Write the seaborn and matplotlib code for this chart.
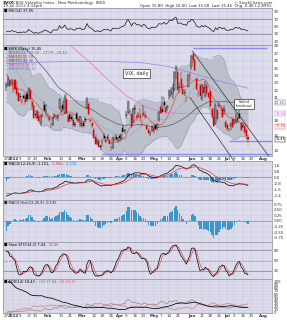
import numpy as np
import pandas as pd
import matplotlib
matplotlib.use("Agg")
import matplotlib.pyplot as plt
import matplotlib.transforms as mtransforms
import seaborn as sns

sns.set_theme(style="white")
plt.rcParams['font.family'] = ['DejaVu Sans']

# ------------------------------------------------------------------ data
holidays = ["2012-01-02", "2012-01-16", "2012-02-20", "2012-04-06",
            "2012-05-28", "2012-07-04"]

vix_open = [22.4, 22.7, 23.3, 22.9, 22.1, 23.4, 22.3, 21.7, 21.2, 20.4,
            21.2, 21.1, 21.5, 21.3, 22.0, 20.5, 19.9, 18.8, 19.2, 18.6,
            17.6, 18.7, 20.0, 19.1, 18.6, 18.5, 17.1, 17.4, 18.6, 18.5,
            18.3, 19.6, 19.4, 20.0, 19.0, 20.9, 18.5, 18.7, 18.4, 18.0,
            17.5, 18.9, 18.1, 17.6, 17.6, 17.6, 18.1, 19.7, 20.2, 18.0,
            17.6, 16.7, 15.8, 14.9, 15.2, 14.5, 15.1, 15.9, 15.4, 15.7,
            15.3, 14.3, 14.3, 15.4, 15.8, 15.3, 15.9, 15.5, 16.9, 16.6,
            18.6, 19.0, 19.1, 18.8, 17.8, 19.6, 18.6, 18.7, 18.6, 17.4,
            18.9, 18.7, 17.2, 16.7, 16.3, 16.5, 16.9, 17.3, 16.9, 18.0,
            19.8, 19.5, 20.5, 19.6, 19.6, 21.2, 21.5, 21.5, 22.0, 24.7,
            24.5, 22.3, 23.6, 22.2, 21.6, 21.0, 22.5, 23.9, 25.1, 26.9,
            26.1, 23.6, 21.6, 22.6, 20.9, 22.4, 21.2, 22.6, 21.6, 21.9,
            19.5, 18.4, 17.5, 19.4, 19.9, 19.8, 19.6, 19.3, 17.7, 17.3,
            16.7, 17.2, 18.2, 17.6, 17.8, 18.3, 18.9, 17.6, 17.2, 17.2,
            16.7, 15.8]
vix_high = [23.1, 24.0, 23.4, 23.5, 23.3, 23.5, 23.3, 22.1, 21.6, 21.0,
            21.5, 21.4, 21.9, 22.4, 22.3, 20.9, 20.1, 19.4, 19.4, 19.1,
            18.9, 19.2, 20.6, 20.2, 19.0, 18.6, 17.6, 18.4, 19.0, 18.9,
            18.9, 21.0, 19.9, 20.6, 21.5, 21.5, 19.0, 19.0, 18.9, 18.4,
            17.8, 19.1, 18.3, 18.6, 17.9, 17.9, 18.5, 21.1, 20.4, 18.2,
            17.8, 16.9, 16.1, 15.6, 15.4, 14.7, 15.5, 16.3, 15.8, 16.2,
            15.6, 14.6, 15.7, 16.0, 16.2, 15.7, 16.1, 16.2, 17.3, 16.8,
            19.2, 20.7, 19.5, 18.9, 19.6, 20.0, 18.8, 19.1, 19.6, 18.1,
            20.0, 19.2, 17.5, 16.9, 16.6, 17.3, 17.6, 17.4, 17.6, 19.3,
            20.0, 21.2, 21.1, 19.9, 20.0, 22.2, 22.5, 22.8, 24.6, 25.4,
            24.6, 23.2, 24.5, 22.9, 22.2, 21.3, 24.2, 24.6, 26.8, 27.0,
            26.2, 23.8, 22.2, 22.8, 22.9, 22.8, 23.3, 23.0, 21.8, 22.0,
            19.7, 19.6, 20.3, 19.5, 20.5, 20.0, 19.6, 20.1, 18.0, 17.6,
            17.0, 17.7, 18.4, 18.1, 19.0, 18.5, 19.4, 17.7, 17.7, 17.4,
            17.0, 16.0]
vix_low = [21.9, 22.6, 22.4, 22.6, 21.7, 22.0, 21.3, 20.6, 20.6, 20.1,
           20.8, 20.1, 20.5, 20.7, 20.8, 19.5, 18.2, 18.2, 18.3, 17.9,
           17.2, 18.3, 19.3, 18.5, 18.1, 17.7, 17.0, 17.2, 18.2, 18.0,
           17.9, 19.4, 18.9, 19.3, 18.8, 18.9, 17.7, 17.8, 17.9, 17.1,
           17.1, 17.9, 17.6, 17.1, 17.0, 17.1, 17.7, 19.5, 18.7, 17.8,
           16.9, 15.6, 14.7, 14.7, 14.4, 14.0, 14.6, 15.3, 15.0, 15.4,
           14.8, 13.9, 14.2, 15.2, 15.3, 15.0, 15.1, 15.3, 16.4, 16.1,
           18.2, 18.8, 18.7, 17.0, 17.6, 18.9, 17.9, 18.3, 17.8, 17.2,
           18.4, 18.1, 16.7, 16.1, 15.9, 16.4, 16.2, 16.7, 16.6, 17.8,
           18.9, 19.0, 19.7, 18.9, 19.2, 20.9, 21.1, 20.9, 21.9, 23.5,
           22.0, 21.7, 22.3, 21.4, 21.3, 20.4, 22.4, 23.3, 24.8, 25.7,
           24.6, 22.1, 21.1, 21.2, 20.6, 21.6, 21.0, 21.4, 20.8, 19.6,
           18.3, 17.1, 17.3, 17.9, 19.6, 19.2, 18.3, 18.7, 16.9, 16.5,
           16.4, 16.7, 17.0, 17.3, 17.5, 17.6, 18.1, 16.6, 16.9, 16.1,
           15.8, 15.0]
vix_close = [22.81, 23.52, 22.65, 23.40, 22.97, 22.22, 21.48, 20.63, 21.07, 20.69,
             21.05, 20.47, 20.91, 22.20, 20.89, 19.87, 18.28, 18.67, 18.31, 17.91,
             18.57, 18.53, 19.44, 19.44, 18.59, 17.98, 17.10, 18.36, 18.63, 18.41,
             18.60, 20.79, 19.07, 19.54, 21.14, 18.95, 17.78, 18.19, 18.19, 17.31,
             17.31, 18.19, 17.96, 18.43, 17.26, 17.29, 18.05, 20.87, 18.81, 17.95,
             17.29, 15.64, 14.80, 15.31, 14.47, 14.47, 15.04, 15.58, 15.13, 15.57,
             14.82, 14.26, 15.59, 15.47, 15.48, 15.50, 15.64, 16.13, 16.44, 16.70,
             18.81, 20.39, 19.22, 17.20, 19.55, 19.55, 18.46, 18.64, 18.36, 17.44,
             18.97, 18.46, 16.82, 16.24, 16.32, 17.15, 16.60, 16.88, 17.56, 19.16,
             18.94, 19.05, 20.08, 19.17, 19.89, 21.87, 21.97, 22.27, 24.49, 25.10,
             22.01, 22.48, 22.33, 21.54, 21.76, 21.03, 24.14, 24.06, 26.66, 26.12,
             24.68, 22.16, 21.72, 21.23, 22.70, 21.68, 22.71, 21.68, 21.11, 19.92,
             18.38, 17.24, 20.08, 18.11, 20.15, 19.72, 18.47, 19.45, 17.08, 16.80,
             16.66, 17.50, 17.10, 17.98, 18.72, 17.95, 18.33, 16.74, 17.11, 16.48,
             15.91, 15.45]
# closes of Nov-Dec 2011, used only to warm up the indicators
warmup_close = [34.77, 32.74, 30.50, 30.16, 29.85, 29.59, 36.16, 32.81, 30.04, 31.13,
                31.23, 32.91, 34.51, 32.00, 32.91, 33.51, 34.47, 34.47, 32.46, 32.19,
                27.80, 27.81, 27.52, 27.41, 27.99, 27.28, 30.59, 26.38, 28.09, 28.35,
                28.09, 25.70, 24.29, 25.91, 22.22, 22.70, 21.43, 20.73]
# long moving averages (index, value)
ma100_idx = [30, 40, 50, 60, 70, 80, 90, 100, 110, 120, 130, 141]
ma100_val = [29.5, 27.5, 25.5, 23.3, 21.3, 19.9, 19.2, 18.9, 18.9, 18.9, 18.9, 18.9]
ma200_idx = [0, 20, 40, 60, 80, 95, 110, 125, 141]
ma200_val = [25.6, 25.8, 25.9, 25.9, 25.7, 25.2, 24.2, 23.2, 22.3]
# drawn annotations (index, value)
channel_upper = ([108.5, 156.0], [27.3, 12.25])
channel_lower = ([107.0, 136.5], [21.1, 11.3])
blue_levels = [(27.7, 109, 152), (13.5, 56, 155), (15.2, 130, 155)]

# ------------------------------------------------------------------ indicators
calendar = pd.bdate_range("2011-12-27", "2012-08-10")
calendar = calendar[~calendar.isin(pd.to_datetime(holidays))]
n = len(vix_close)
idx = np.arange(n)
o = np.array(vix_open); h = np.array(vix_high)
l = np.array(vix_low); c = np.array(vix_close)
nw = len(warmup_close)
full = pd.Series(warmup_close + vix_close)

ma10 = full.rolling(10).mean().values[nw:]
ma50 = full.rolling(50).mean().values[nw:]
bb_mid = full.rolling(20).mean()
bb_sd = full.rolling(20).std(ddof=0)
bb_up = (bb_mid + 2 * bb_sd).values[nw:]
bb_lo = (bb_mid - 2 * bb_sd).values[nw:]

d = full.diff()
gain = d.clip(lower=0).ewm(alpha=1/14, adjust=False).mean()
loss = (-d.clip(upper=0)).ewm(alpha=1/14, adjust=False).mean()
rsi = (100 - 100 / (1 + gain / loss)).values[nw:]

ema12 = full.ewm(span=12, adjust=False).mean()
ema26 = full.ewm(span=26, adjust=False).mean()
macd_s = ema12 - ema26
sig_s = macd_s.ewm(span=9, adjust=False).mean()
macd = macd_s.values[nw:]; sig = sig_s.values[nw:]
hist = macd - sig

hs = pd.Series(h); ls = pd.Series(l); cs = pd.Series(c)
hh = hs.rolling(14, min_periods=1).max(); ll = ls.rolling(14, min_periods=1).min()
fast_k = 100 * (cs - ll) / (hh - ll)
sto_k = fast_k.rolling(3, min_periods=1).mean()
sto_d = sto_k.rolling(3, min_periods=1).mean()

up_move = hs.diff(); dn_move = -ls.diff()
pdm = np.where((up_move > dn_move) & (up_move > 0), up_move, 0.0)
mdm = np.where((dn_move > up_move) & (dn_move > 0), dn_move, 0.0)
tr = pd.concat([hs - ls, (hs - cs.shift()).abs(), (ls - cs.shift()).abs()], axis=1).max(axis=1)
atr = tr.ewm(alpha=1/14, adjust=False).mean()
pdi = 100 * pd.Series(pdm).ewm(alpha=1/14, adjust=False).mean() / atr
mdi = 100 * pd.Series(mdm).ewm(alpha=1/14, adjust=False).mean() / atr
dx = 100 * (pdi - mdi).abs() / (pdi + mdi)
adx = dx.ewm(alpha=1/14, adjust=False).mean()

# ------------------------------------------------------------------ figure
W, H = 287, 320
BG = '#dcdcec'
GRID = '#c8c8da'
fig = plt.figure(figsize=(W / 100, H / 100), dpi=100)
fig.patch.set_facecolor('white')

# x ticks (weekly, months named)
tick_pos, tick_lab = [], []
prev = None
for i, dt in enumerate(calendar[:157]):
    lab = None
    if prev is None:
        lab = str(dt.day)
    elif dt.year != prev.year:
        lab = str(dt.year)
    elif dt.month != prev.month:
        lab = dt.strftime('%b')
    elif dt.isocalendar()[1] != prev.isocalendar()[1]:
        lab = str(dt.day)
    if lab is not None:
        named = not lab.isdigit() or len(lab) == 4
        if named and tick_pos and i - tick_pos[-1] <= 3 and tick_lab[-1].isdigit() \
                and len(tick_lab[-1]) < 4:
            tick_pos.pop(); tick_lab.pop()
        if named or not (tick_pos and i - tick_pos[-1] <= 3):
            tick_pos.append(i); tick_lab.append(lab)
    prev = dt

XMIN, XMAX = -2, 155
FS = 2.9


def panel(top, bottom):
    ax = fig.add_axes([3 / W, 1 - bottom / H, 269 / W, (bottom - top) / H])
    ax.set_facecolor(BG)
    for s in ax.spines.values():
        s.set_color('#8a8a9a'); s.set_linewidth(0.5)
    ax.set_xlim(XMIN, XMAX)
    ax.set_xticks(tick_pos)
    ax.set_xticklabels([])
    ax.yaxis.tick_right()
    ax.tick_params(axis='both', length=0, labelsize=FS, pad=1, colors='#333333')
    ax.grid(True, color=GRID, lw=0.35)
    ax.set_xlabel(''); ax.set_ylabel('')
    return ax


def line(ax, x, y, color, lw=0.5, **kw):
    sns.lineplot(x=np.asarray(x, float), y=np.asarray(y, float), ax=ax,
                 color=color, lw=lw, legend=False, **kw)
    ax.set_xlabel(''); ax.set_ylabel('')


def xlabels(ax):
    ax.set_xticklabels(tick_lab)
    for t, lab in zip(ax.get_xticklabels(), tick_lab):
        t.set_fontsize(FS)
        if not lab.isdigit() or len(lab) == 4:
            t.set_fontweight('bold')
    ax.tick_params(axis='x', pad=0.8)


def label_parts(ax, parts, y=0.97):
    """Write a row of coloured label pieces one after another."""
    x = 0.005
    r = fig.canvas.get_renderer()
    for txt, col in parts:
        t = ax.text(x, y, txt, transform=ax.transAxes, fontsize=2.6, va='top',
                    ha='left', color=col, zorder=8)
        bb = t.get_window_extent(renderer=r).transformed(ax.transAxes.inverted())
        x = bb.x1 + 0.006


# header
fig.text(3 / W, 1 - 2.6 / H, '$VIX', fontsize=3.2, fontweight='bold', va='center')
fig.text(13 / W, 1 - 2.6 / H, 'CBOE Volatility Index - New Methodology  INDX',
         fontsize=2.8, va='center', color='#333333')
fig.text(3 / W, 1 - 6.2 / H, '19-Jul-2012 4:14pm', fontsize=2.8, va='center', color='#333333')
fig.text(272 / W, 1 - 2.6 / H, '\u00a9 StockCharts.com', fontsize=2.8, va='center',
         ha='right', color='#333333')
chg = c[-1] - c[-2]
fig.text(272 / W, 1 - 6.2 / H,
         'Open %.2f  High %.2f  Low %.2f  Last %.2f  Chg %.2f (%.2f%%)'
         % (o[-1], h[-1], l[-1], c[-1], chg, 100 * chg / c[-2]),
         fontsize=2.8, va='center', ha='right', color='#222222')

# ---- RSI
ax1 = panel(8, 45)
ax1.set_ylim(0, 100)
ax1.set_yticks([10, 30, 50, 70, 90])
for lv in (70, 30):
    ax1.axhline(lv, color='#7a7a8a', lw=0.5)
line(ax1, idx, rsi, 'black', lw=0.45)
label_parts(ax1, [('\u25a0 RSI(14) %.2f' % rsi[-1], 'black')])

# ---- price
ax2 = panel(45, 156)
ax2.set_ylim(13.2, 28.1)
box_vals = [(c[-1], 'black'), (ma10[-1], '#e03030'), (ma100_val[-1], '#d050d0'),
            (ma50[-1], '#555555')]
yt = [v for v in range(14, 29) if all(abs(v - bv) > 0.45 for bv, _ in box_vals)]
ax2.set_yticks(yt)
ax2.set_yticklabels([str(v) for v in yt])
ax2.fill_between(idx, bb_lo, bb_up, color='#bcc0cb', lw=0, zorder=1)
line(ax2, idx, bb_up, '#9498a6', lw=0.35, zorder=2)
line(ax2, idx, bb_lo, '#9498a6', lw=0.35, zorder=2)
line(ax2, idx, bb_mid.values[nw:], '#9498a6', lw=0.3, zorder=2)
line(ax2, ma200_idx, ma200_val, '#9b8fe6', lw=0.6, zorder=3)
line(ax2, ma100_idx, ma100_val, '#e078e0', lw=0.55, zorder=3)
line(ax2, idx, ma50, '#5a5a5a', lw=0.5, zorder=3)
line(ax2, idx, ma10, '#e05555', lw=0.55, zorder=3)
for lv, x0, x1 in blue_levels:
    ax2.hlines(lv, x0, x1, color='#8c8cf0', lw=1.0, zorder=3)

prev_c = np.r_[c[0], c[:-1]]
for i in range(n):
    col = '#e00000' if c[i] < prev_c[i] else '#000000'
    ax2.vlines(i, l[i], h[i], color=col, lw=0.35, zorder=4)
    lo_b, hi_b = min(o[i], c[i]), max(o[i], c[i])
    face = BG if c[i] > o[i] else col
    ax2.bar(i, max(hi_b - lo_b, 0.04), bottom=lo_b, width=0.6, color=face,
            edgecolor=col, lw=0.3, zorder=5)
ax2.scatter([n - 1], [l[-1] - 0.35], marker='s', s=1.2, color='#f2d21b', zorder=6, lw=0)

ax2.plot(*channel_upper, color='#333333', lw=0.5, zorder=6)
ax2.plot(*channel_lower, color='#333333', lw=0.5, zorder=6, clip_on=False)

ax2.text(76, 24.3, 'VIX, daily', fontsize=3.6, ha='center', va='center', zorder=7,
         bbox=dict(boxstyle='square,pad=0.4', fc='white', ec='black', lw=0.4))
ax2.text(138.5, 20.2, 'Failed\nbreakout', fontsize=2.7, ha='center', va='center', zorder=7,
         linespacing=0.9,
         bbox=dict(boxstyle='square,pad=0.4', fc='white', ec='black', lw=0.4))

legend_rows = [('\u25a0 $VIX (Daily) %.2f' % c[-1], 'black'),
               ('\u2014 BB(20,2.0) %.2f - %.2f - %.2f' % (bb_lo[-1], bb_mid.values[-1], bb_up[-1]), '#666677'),
               ('\u2014 MA(10) %.2f' % ma10[-1], '#e03030'),
               ('\u2014 MA(50) %.2f' % ma50[-1], '#555555'),
               ('\u2014 MA(100) %.2f' % ma100_val[-1], '#d050d0'),
               ('\u2014 MA(200) %.2f' % ma200_val[-1], '#8070e0')]
for k, (txt, col) in enumerate(legend_rows):
    ax2.text(0.005, 0.985 - k * 0.036, txt, transform=ax2.transAxes, fontsize=2.6,
             color=col, va='top', ha='left', zorder=8)

trans = mtransforms.blended_transform_factory(ax2.transAxes, ax2.transData)
box_sorted = sorted(box_vals, key=lambda t: t[0])
last_y = None
for val, col in box_sorted:
    ypos = val if last_y is None else max(val, last_y + 0.6)
    ax2.text(1.012, ypos, '%.2f' % val, transform=trans, fontsize=2.4, color=col,
             va='center', ha='left', zorder=8,
             bbox=dict(boxstyle='square,pad=0.15', fc='white', ec=col, lw=0.3))
    last_y = ypos
xlabels(ax2)

# ---- MACD
ax3 = panel(161, 200)
lo3 = min(macd.min(), sig.min()); hi3 = max(macd.max(), sig.max())
pad3 = 0.12 * (hi3 - lo3)
ax3.set_ylim(lo3 - pad3, hi3 + pad3)
ax3.bar(idx, hist, width=0.8, color='#3d95c8', lw=0, zorder=2)
ax3.axhline(0, color='#7a7a8a', lw=0.4, zorder=1)
line(ax3, idx, macd, 'black', lw=0.5, zorder=3)
line(ax3, idx, sig, '#e03a3a', lw=0.5, zorder=3)
ax3.yaxis.set_major_locator(matplotlib.ticker.MaxNLocator(7))
ax3.yaxis.set_major_formatter(matplotlib.ticker.FormatStrFormatter('%.1f'))
label_parts(ax3, [('\u25a0 MACD(12,26,9) %.3f,' % macd[-1], 'black'),
                  ('%.3f,' % sig[-1], '#e03030'), ('%.3f' % hist[-1], '#2a80c0')])

# ---- histogram
ax4 = panel(200, 242)
lo4, hi4 = hist.min(), hist.max()
pad4 = 0.12 * (hi4 - lo4)
ax4.set_ylim(lo4 - pad4, hi4 + pad4 * 1.6)
ax4.bar(idx, hist, width=0.8, color='#3d95c8', lw=0, zorder=2)
ax4.axhline(0, color='#7a7a8a', lw=0.4, zorder=1)
ax4.yaxis.set_major_locator(matplotlib.ticker.MaxNLocator(8))
ax4.yaxis.set_major_formatter(matplotlib.ticker.FormatStrFormatter('%.2f'))
label_parts(ax4, [('\u25a0 MACD Hist(12,26,9) %.3f' % hist[-1], '#222222')], y=0.975)

# ---- slow stochastic
ax5 = panel(242, 279)
ax5.set_ylim(-5, 105)
ax5.set_yticks([20, 50, 80])
for lv in (80, 20):
    ax5.axhline(lv, color='#7a7a8a', lw=0.45)
ax5.axhline(50, color='#7a7a8a', lw=0.4, ls=(0, (3, 2)))
line(ax5, idx, sto_d, '#e05555', lw=0.5, zorder=3)
line(ax5, idx, sto_k, 'black', lw=0.5, zorder=3)
label_parts(ax5, [('\u25a0 Slow STO(14,3) %.2f,' % sto_k.values[-1], 'black'),
                  ('%.2f' % sto_d.values[-1], '#e03030')])

# ---- ADX
ax6 = panel(279, 313)
top6 = max(adx.max(), pdi.max(), mdi.max())
ax6.set_ylim(0, top6 * 1.08)
ax6.yaxis.set_major_locator(matplotlib.ticker.MultipleLocator(10))
line(ax6, idx, pdi, '#8a8a8a', lw=0.5, zorder=3)
line(ax6, idx, mdi, '#d08080', lw=0.5, zorder=3)
line(ax6, idx, adx, 'black', lw=0.55, zorder=3)
label_parts(ax6, [('\u25a0 ADX(14) %.2f,' % adx.values[-1], 'black'),
                  ('+DI %.2f,' % pdi.values[-1], '#777777'),
                  ('-DI %.2f' % mdi.values[-1], '#c06060')])
xlabels(ax6)

fig.savefig('out.png', dpi=100, facecolor='white')
